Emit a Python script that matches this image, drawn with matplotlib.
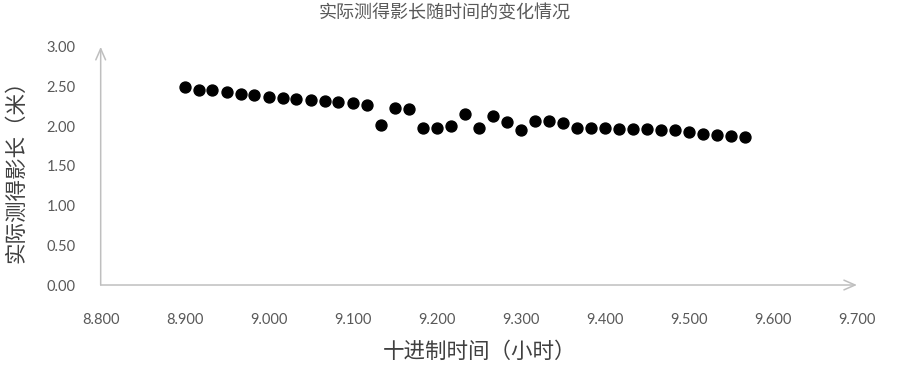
import matplotlib
matplotlib.use("Agg")
import matplotlib.pyplot as plt

# decimal time (hours) and measured shadow length (m)
hours = [8.900, 8.917, 8.933, 8.950, 8.967, 8.983, 9.000, 9.017, 9.033, 9.050,
         9.067, 9.083, 9.100, 9.117, 9.133, 9.150, 9.167, 9.183, 9.200, 9.217,
         9.233, 9.250, 9.267, 9.283, 9.300, 9.317, 9.333, 9.350, 9.367, 9.383,
         9.400, 9.417, 9.433, 9.450, 9.467, 9.483, 9.500, 9.517, 9.533, 9.550,
         9.567]
shadow = [2.49, 2.46, 2.45, 2.43, 2.41, 2.39, 2.37, 2.36, 2.34, 2.33,
          2.32, 2.30, 2.29, 2.27, 2.02, 2.23, 2.22, 1.98, 1.98, 2.00,
          2.16, 1.98, 2.13, 2.05, 1.95, 2.07, 2.07, 2.04, 1.98, 1.98,
          1.98, 1.97, 1.97, 1.96, 1.95, 1.95, 1.93, 1.90, 1.89, 1.88,
          1.86]

x_ticks = [8.8, 8.9, 9.0, 9.1, 9.2, 9.3, 9.4, 9.5, 9.6, 9.7]
y_ticks = [0.0, 0.5, 1.0, 1.5, 2.0, 2.5, 3.0]

title = "实际测得影长随时间的变化情况"
xlabel = "十进制时间（小时）"
ylabel = "实际测得影长（米）"

cjk = ["Noto Sans CJK SC", "DejaVu Sans"]
axis_grey = "#BFBFBF"
text_grey = "#595959"

fig = plt.figure(figsize=(9.03, 3.67), dpi=100)
ax = fig.add_axes([0.1115, 0.2234, 0.8375, 0.649])

ax.scatter(hours, shadow, s=62, color="black", zorder=3, clip_on=False)

ax.set_xlim(8.8, 9.7)
ax.set_ylim(0, 3)
ax.set_xticks(x_ticks)
ax.set_xticklabels([f"{v:.3f}" for v in x_ticks])
ax.set_yticks(y_ticks)
ax.set_yticklabels([f"{v:.2f}" for v in y_ticks])
ax.tick_params(length=0, labelcolor=text_grey, labelsize=10.5)
ax.tick_params(axis="x", pad=20)
ax.tick_params(axis="y", pad=18)
for lab in ax.get_xticklabels() + ax.get_yticklabels():
    lab.set_fontfamily("Lato")

for s in ax.spines.values():
    s.set_visible(False)

# axis lines with open arrowheads
arrow = dict(arrowstyle="->,head_length=0.8,head_width=0.35", color=axis_grey, lw=1.1,
             shrinkA=0, shrinkB=0)
ax.annotate("", xy=(1.0, 0), xytext=(0, 0), xycoords="axes fraction",
            textcoords="axes fraction", arrowprops=arrow)
ax.annotate("", xy=(0, 1.0), xytext=(0, 0), xycoords="axes fraction",
            textcoords="axes fraction", arrowprops=arrow)

fig.text(0.493, 0.962, title, ha="center", va="center", fontsize=13,
         color=text_grey, family=cjk)
fig.text(0.531, 0.04, xlabel, ha="center", va="center", fontsize=15.5,
         family=cjk, color="#404040")
ax.set_ylabel(ylabel, fontsize=15.5, family=cjk, color="#404040", labelpad=14)

fig.savefig("out.png", dpi=100)
